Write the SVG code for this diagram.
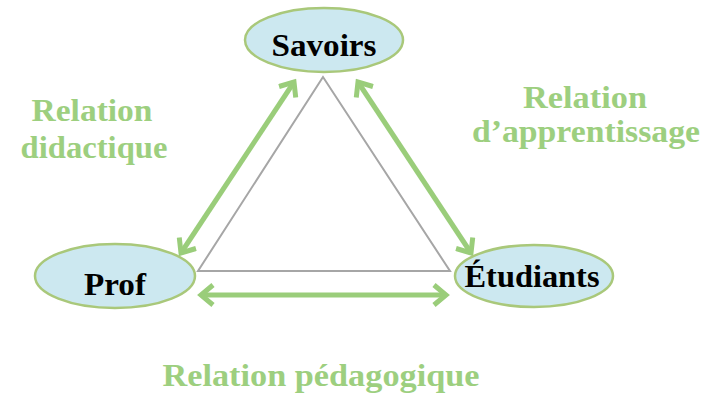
<svg xmlns="http://www.w3.org/2000/svg" width="704" height="394" viewBox="0 0 704 394">
<style>
.node{fill:#cce8f0;stroke:#a9c87a;stroke-width:2.5}
.nt{font-family:"Liberation Serif","Times New Roman",serif;font-weight:bold;font-size:31px;fill:#000;text-anchor:middle}
.lbl{font-family:"Liberation Serif","Times New Roman",serif;font-weight:bold;font-size:31px;fill:#9dcf7f;text-anchor:middle}
.arr{stroke:#9acd7a;stroke-width:5;fill:none}
.tri{fill:#fff;stroke:#a6a6a6;stroke-width:2}
</style>
<defs>
<marker id="ah" viewBox="-16 -12 20 24" refX="0" refY="0" markerWidth="20" markerHeight="24" markerUnits="userSpaceOnUse" orient="auto-start-reverse">
<path d="M-12,-10 L0,0 L-12,10" fill="none" stroke="#9acd7a" stroke-width="5" stroke-linejoin="miter"/>
</marker>
</defs>
<rect width="704" height="394" fill="#fff"/>
<g id="triangle"><polygon class="tri" points="323,77 198,271 450,271"/></g>
<g id="connectors">
<line class="arr" x1="294" y1="82" x2="181" y2="253" marker-start="url(#ah)" marker-end="url(#ah)"/>
<line class="arr" x1="358" y1="82" x2="471" y2="253" marker-start="url(#ah)" marker-end="url(#ah)"/>
<line class="arr" x1="201" y1="295" x2="446" y2="295" marker-start="url(#ah)" marker-end="url(#ah)"/>
</g>
<g id="savoirs"><ellipse class="node" cx="324" cy="40" rx="79" ry="32"/><text class="nt" x="324" y="56" textLength="105" lengthAdjust="spacingAndGlyphs">Savoirs</text></g>
<g id="prof"><ellipse class="node" cx="115" cy="276" rx="80" ry="32"/><text class="nt" x="115" y="295" textLength="62" lengthAdjust="spacingAndGlyphs">Prof</text></g>
<g id="etudiants"><ellipse class="node" cx="534" cy="276" rx="79" ry="31"/><text class="nt" x="532" y="287" textLength="135" lengthAdjust="spacingAndGlyphs">Étudiants</text></g>
<g id="labels">
<text class="lbl" x="92" y="121" textLength="121" lengthAdjust="spacingAndGlyphs">Relation</text>
<text class="lbl" x="94" y="158" textLength="147" lengthAdjust="spacingAndGlyphs">didactique</text>
<text class="lbl" x="585" y="108" textLength="124" lengthAdjust="spacingAndGlyphs">Relation</text>
<text class="lbl" x="586" y="142" textLength="228" lengthAdjust="spacingAndGlyphs">d’apprentissage</text>
<text class="lbl" x="321" y="386" textLength="317" lengthAdjust="spacingAndGlyphs">Relation pédagogique</text>
</g>
</svg>
